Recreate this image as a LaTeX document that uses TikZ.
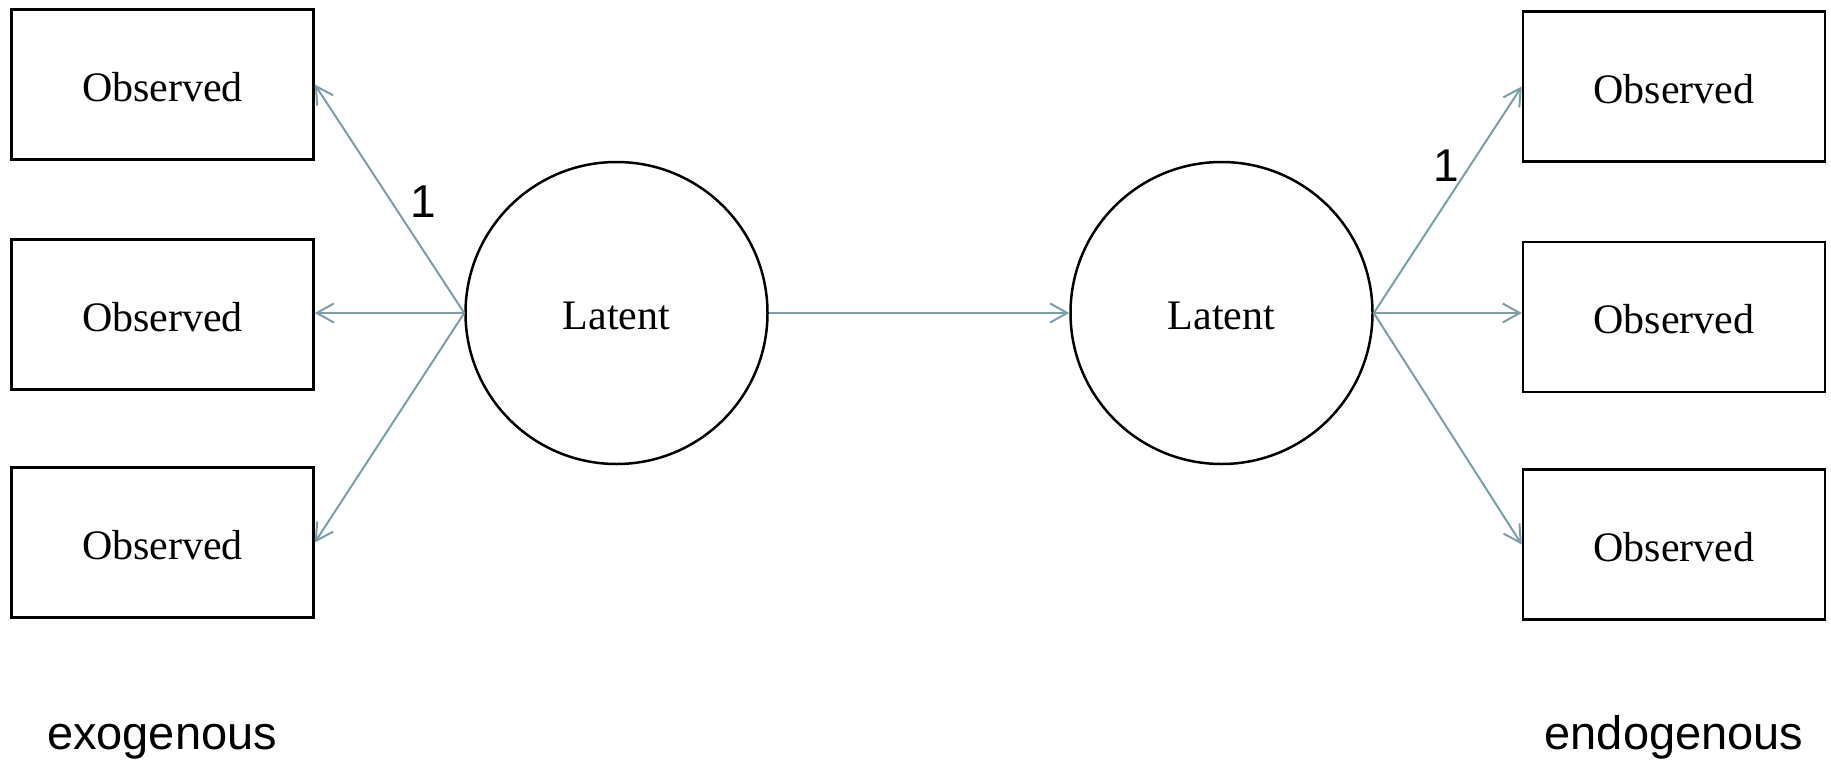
\documentclass[tikz,border=0pt]{standalone}
\usepackage{fontspec}
\setmainfont{Liberation Serif}
\newfontfamily\labelfont{Liberation Sans}
\usetikzlibrary{arrows.meta}
\definecolor{pathcol}{RGB}{122,158,170}
\begin{document}
\begin{tikzpicture}[x=1pt,y=-1pt,
  obs/.style={draw=black, line width=2.5pt, minimum width=302pt, minimum height=150pt,
    inner sep=0pt, text height=33pt, text depth=0pt, font=\fontsize{42}{48}\selectfont},
  lat/.style={draw=black, line width=2.5pt, circle, minimum size=302pt,
    inner sep=0pt, text height=33pt, text depth=0pt, font=\fontsize{42}{48}\selectfont},
  path/.style={draw=pathcol, line width=2pt, -{Straight Barb[length=17pt,width=19pt]}},
  tag/.style={font=\labelfont\fontsize{46}{52}\selectfont, inner sep=0pt},
  side/.style={font=\labelfont\fontsize{47}{54}\selectfont, inner sep=0pt}]
\useasboundingbox (0,0) rectangle (1831,761);

% exogenous indicators
\node[obs] (l1) at (162.5,84.5) {Observed};
\node[obs] (l2) at (162.5,314.5) {Observed};
\node[obs] (l3) at (162.5,542.5) {Observed};

% endogenous indicators
\node[obs] (r1) at (1674,86.5) {Observed};
\node[obs] (r2) at (1674,317) {Observed};
\node[obs] (r3) at (1674,544.5) {Observed};

% latent variables
\node[lat] (lc) at (616.5,313) {Latent};
\node[lat] (rc) at (1221.5,313) {Latent};

% loadings
\draw[path] (lc.west) -- (l1.east);
\draw[path] (lc.west) -- (lc.west -| l2.east);
\draw[path] (lc.west) -- (l3.east);
\draw[path] (rc.east) -- (r1.west);
\draw[path] (rc.east) -- (rc.east -| r2.west);
\draw[path] (rc.east) -- (r3.west);

% structural path
\draw[path] (lc.east) -- (rc.west);

% fixed loadings
\node[tag] (f1) at (423,202) {1};
\node[tag] (f2) at (1446,166) {1};

% side labels
\node[side, anchor=base] (exo) at (162,749) {exogenous};
\node[side, anchor=base] (endo) at (1674,749) {endogenous};
\end{tikzpicture}
\end{document}
